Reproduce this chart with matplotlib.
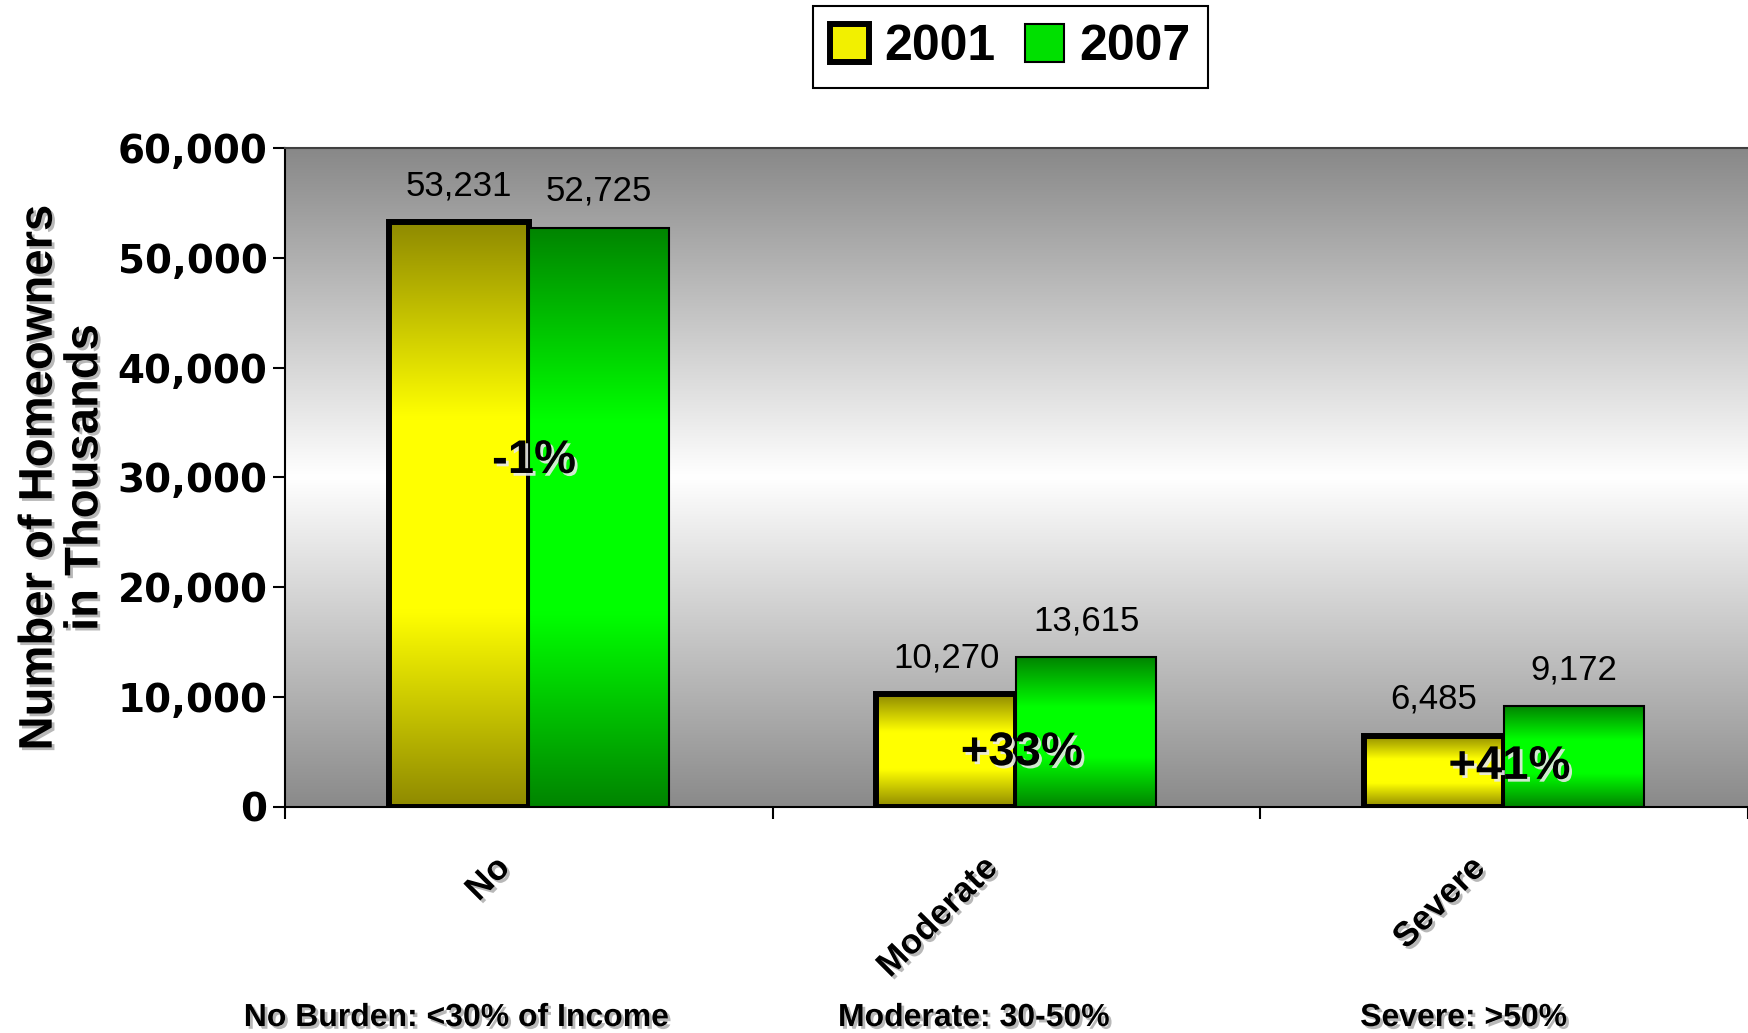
import numpy as np
import matplotlib
matplotlib.use("Agg")
import matplotlib.pyplot as plt
from matplotlib import patheffects
from matplotlib.colors import LinearSegmentedColormap
from matplotlib.patches import Patch
from matplotlib.ticker import FuncFormatter
from matplotlib.transforms import ScaledTranslation

plt.rcParams['font.family'] = ['Liberation Sans', 'DejaVu Sans']

categories = ['No', 'Moderate', 'Severe']
burden_notes = ['No Burden: <30% of Income', 'Moderate: 30-50%', 'Severe: >50%']
years = ['2001', '2007']
owners_2001 = [53231, 10270, 6485]
owners_2007 = [52725, 13615, 9172]

# where the percent-change text sits on each group
pct_y = [31500, 4900, 3650]
note_x = [0.2612, 0.5572, 0.8375]

bg_cmap = LinearSegmentedColormap.from_list('bg', ['#888888', '#ffffff', '#8a8a8a'])
yellow_cmap = LinearSegmentedColormap.from_list('yel', ['#8f8a00', '#ffff00', '#ffff00', '#8f8a00'])
green_cmap = LinearSegmentedColormap.from_list('grn', ['#008400', '#00ff00', '#00ff00', '#008400'])
grad = np.linspace(0, 1, 256).reshape(-1, 1)

shadow = [patheffects.withSimplePatchShadow(offset=(2, -2), shadow_rgbFace='#9a9a9a', alpha=0.7)]
light_shadow = [patheffects.withSimplePatchShadow(offset=(2, -2), shadow_rgbFace='#e8e8e8', alpha=0.9)]

fig = plt.figure(figsize=(17.48, 10.33), dpi=100)
ax = fig.add_axes([0.163, 0.2188, 0.837, 0.638])

x = np.arange(len(categories))
w = 0.287
ymax = 60000

ax.imshow(grad, extent=[-0.5, len(categories) - 0.5, 0, ymax], aspect='auto',
          cmap=bg_cmap, interpolation='bicubic', zorder=0)

b1 = ax.bar(x - w / 2, owners_2001, w, facecolor='none', edgecolor='black', linewidth=4.3, zorder=3)
b2 = ax.bar(x + w / 2, owners_2007, w, facecolor='none', edgecolor='black', linewidth=1.5, zorder=5)


def fill_gradient(bars, cmap, z):
    for bar in bars:
        x0, y0 = bar.get_x(), bar.get_y()
        ax.imshow(grad, extent=[x0, x0 + bar.get_width(), y0, y0 + bar.get_height()],
                  aspect='auto', cmap=cmap, interpolation='bicubic', zorder=z)


fill_gradient(b1, yellow_cmap, 2)
fill_gradient(b2, green_cmap, 4)

for bars in (b1, b2):
    for bar in bars:
        h = bar.get_height()
        ax.annotate(f'{int(h):,}', (bar.get_x() + bar.get_width() / 2, h),
                    xytext=(0, 19.5), textcoords='offset points',
                    ha='center', va='baseline', fontsize=25, zorder=6)

for i, (a, b) in enumerate(zip(owners_2001, owners_2007)):
    pct = int(round((b / a - 1) * 100))
    ax.text(x[i] + 0.011, pct_y[i], f'{pct:+d}%', ha='center', va='center',
            fontsize=34, fontweight='bold', zorder=7, path_effects=light_shadow)

ax.set_xlim(-0.5, len(categories) - 0.5)
ax.set_ylim(0, ymax)

ax.set_yticks(np.arange(0, ymax + 1, 10000))
ax.yaxis.set_major_formatter(FuncFormatter(lambda v, p: f'{int(v):,}'))
for lbl in ax.get_yticklabels():
    lbl.set_fontfamily('DejaVu Sans')
    lbl.set_fontweight('bold')
    lbl.set_fontsize(28)
ax.tick_params(axis='y', length=8.6, width=1.5, pad=4)

ax.set_xticks(x)
ax.set_xticklabels(categories, rotation=45, ha='right', va='center',
                   rotation_mode='anchor', fontsize=25, fontweight='bold')
ax.set_xticks(np.arange(-0.5, len(categories), 1), minor=True)
ax.tick_params(axis='x', which='major', length=0, pad=40)
ax.tick_params(axis='x', which='minor', length=8.6, width=1.5)
shift = ScaledTranslation(-0.24, 0, fig.dpi_scale_trans)
for lbl in ax.get_xticklabels():
    lbl.set_transform(lbl.get_transform() + shift)
    lbl.set_path_effects(shadow)

for side in ('left', 'bottom'):
    ax.spines[side].set_linewidth(1.5)
    ax.spines[side].set_color('black')
ax.spines['top'].set_color('#404040')
ax.spines['top'].set_linewidth(1.5)
ax.spines['right'].set_visible(False)

ax.text(-0.152, 0.5, 'Number of Homeowners\nin Thousands', transform=ax.transAxes,
        rotation=90, ha='center', va='center', multialignment='center',
        fontsize=34, fontweight='bold', linespacing=1.05, path_effects=shadow)

for nx, note in zip(note_x, burden_notes):
    fig.text(nx, 0.0145, note, ha='center', va='center', fontsize=23,
             fontweight='bold', path_effects=shadow)

handles = [Patch(facecolor='#f2f000', edgecolor='black', linewidth=4.3),
           Patch(facecolor='#00e000', edgecolor='black', linewidth=1.5)]
leg = fig.legend(handles, years, loc='center', bbox_to_anchor=(0.578, 0.9547), ncol=2,
                 frameon=True, fancybox=False, edgecolor='black', framealpha=1,
                 prop=dict(weight='bold', size=36), handlelength=0.78, handleheight=0.8,
                 handletextpad=0.3, columnspacing=0.6, borderpad=0.35)
leg.get_frame().set_linewidth(1.5)

fig.savefig('out.png', dpi=100)
